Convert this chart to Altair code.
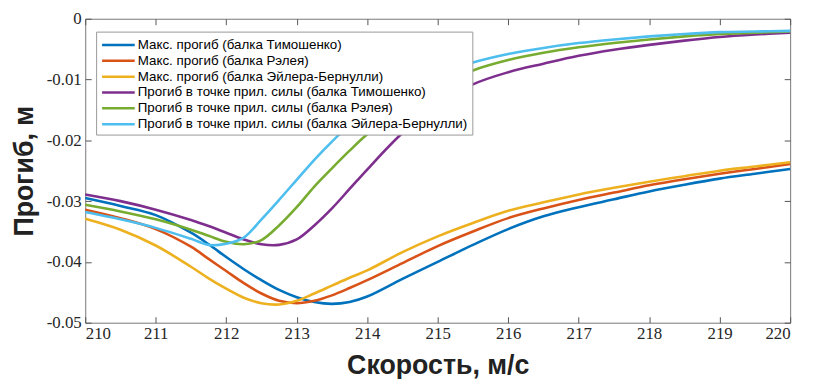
import altair as alt
import pandas as pd

speed = [210, 210.5, 211, 211.5, 211.75, 212, 212.25, 212.5, 212.75, 213, 213.25, 213.5,
         213.75, 214, 214.5, 215, 215.5, 216, 216.5, 217, 217.5, 218, 218.5, 219, 219.5, 220]

series_names = [
    "Макс. прогиб (балка Тимошенко)",
    "Макс. прогиб (балка Рэлея)",
    "Макс. прогиб (балка Эйлера-Бернулли)",
    "Прогиб в точке прил. силы (балка Тимошенко)",
    "Прогиб в точке прил. силы (балка Рэлея)",
    "Прогиб в точке прил. силы (балка Эйлера-Бернулли)",
]
colors = ["#0072BD", "#D95319", "#EDB120", "#7E2F8E", "#77AC30", "#4DBEEE"]

max_timoshenko = [-0.0295, -0.0308, -0.0323, -0.0352, -0.0371, -0.0392, -0.0412, -0.0430, -0.0446,
                  -0.0458, -0.0466, -0.0469, -0.0466, -0.0457, -0.0428, -0.0400, -0.0372, -0.0346,
                  -0.0325, -0.0310, -0.0297, -0.0284, -0.0273, -0.0263, -0.0255, -0.0247]
max_rayleigh = [-0.0314, -0.0328, -0.0346, -0.0375, -0.0395, -0.0415, -0.0435, -0.0452, -0.0464,
                -0.0468, -0.0464, -0.0455, -0.0443, -0.0430, -0.0402, -0.0374, -0.0350, -0.0328,
                -0.0312, -0.0298, -0.0286, -0.0274, -0.0264, -0.0255, -0.0247, -0.0239]
max_euler = [-0.0329, -0.0347, -0.0373, -0.0408, -0.0427, -0.0444, -0.0459, -0.0468, -0.0470,
             -0.0464, -0.0452, -0.0439, -0.0426, -0.0414, -0.0384, -0.0358, -0.0336, -0.0316,
             -0.0302, -0.0289, -0.0278, -0.0268, -0.0259, -0.0250, -0.0243, -0.0236]
load_timoshenko = [-0.0289, -0.0300, -0.0314, -0.0331, -0.0341, -0.0352, -0.0363, -0.0371, -0.0372,
                   -0.0363, -0.0340, -0.0312, -0.0280, -0.0248, -0.0188, -0.0142, -0.0108, -0.0088,
                   -0.0074, -0.0061, -0.0051, -0.0043, -0.0036, -0.0030, -0.0026, -0.0023]
load_rayleigh = [-0.0306, -0.0317, -0.0330, -0.0347, -0.0357, -0.0367, -0.0371, -0.0364, -0.0340,
                 -0.0310, -0.0276, -0.0246, -0.0217, -0.0190, -0.0145, -0.0110, -0.0085, -0.0068,
                 -0.0056, -0.0047, -0.0040, -0.0034, -0.0029, -0.0025, -0.0023, -0.0021]
load_euler = [-0.0318, -0.0330, -0.0344, -0.0362, -0.0372, -0.0370, -0.0360, -0.0330, -0.0298,
              -0.0265, -0.0232, -0.0202, -0.0175, -0.0152, -0.0118, -0.0091, -0.0072, -0.0058,
              -0.0048, -0.0040, -0.0034, -0.0029, -0.0025, -0.0022, -0.0021, -0.0020]

x_ticks = [210, 211, 212, 213, 214, 215, 216, 217, 218, 219, 220]
y_ticks = [-0.05, -0.04, -0.03, -0.02, -0.01, 0]

all_series = [max_timoshenko, max_rayleigh, max_euler, load_timoshenko, load_rayleigh, load_euler]
rows = []
for name, vals in zip(series_names, all_series):
    for sx, dy in zip(speed, vals):
        rows.append({"speed": sx, "defl": dy, "series": name})
df = pd.DataFrame(rows)

xscale = alt.Scale(domain=[210, 220], nice=False, zero=False)
yscale = alt.Scale(domain=[-0.05, 0], nice=False, zero=False)

TICK = "#555555"
LABEL_FONT = "Liberation Serif"
TITLE_FONT = "Liberation Sans"

lines = alt.Chart(df).mark_line(strokeWidth=2.6, interpolate="catmull-rom").encode(
    x=alt.X("speed:Q", scale=xscale,
            axis=alt.Axis(title="Скорость, м/с", values=x_ticks, format="d", offset=-6,
                          tickSize=6, tickColor=TICK, domain=False, grid=False, labelPadding=3,
                          labelFont=LABEL_FONT, labelFontSize=17, labelColor="#262626",
                          titleFont=TITLE_FONT, titleFontSize=27, titleFontWeight="bold",
                          titleColor="#222222", titlePadding=11)),
    y=alt.Y("defl:Q", scale=yscale,
            axis=alt.Axis(title="Прогиб, м", values=y_ticks,
                          labelExpr="datum.value == 0 ? '0' : '' + datum.value",
                          offset=-6, tickSize=6, tickColor=TICK, domain=False, grid=False,
                          labelPadding=4, labelFont=LABEL_FONT, labelFontSize=17,
                          labelColor="#262626", titleFont=TITLE_FONT, titleFontSize=27,
                          titleFontWeight="bold", titleColor="#222222", titlePadding=8)),
    color=alt.Color("series:N", sort=series_names,
                    scale=alt.Scale(domain=series_names, range=colors),
                    legend=alt.Legend(orient="none", legendX=11, legendY=13, title=None,
                                      symbolType="M-2,0H2", symbolSize=272,
                                      symbolStrokeWidth=2.5, symbolOffset=9,
                                      labelFont=TITLE_FONT,
                                      labelFontSize=13.5, labelColor="black", labelOffset=10,
                                      strokeColor="#999999", fillColor="white", padding=4,
                                      rowPadding=0, labelLimit=420)),
)

ticks = alt.Chart(df).mark_line(opacity=0).encode(
    x=alt.X("speed:Q", scale=xscale,
            axis=alt.Axis(orient="top", title=None, values=x_ticks, labels=False, offset=-6,
                          tickSize=6, tickColor=TICK, domain=False, grid=False)),
    y=alt.Y("defl:Q", scale=yscale,
            axis=alt.Axis(orient="right", title=None, values=y_ticks, labels=False, offset=-6,
                          tickSize=6, tickColor=TICK, domain=False, grid=False)),
)

chart = alt.layer(lines, ticks).resolve_axis(x="independent", y="independent").properties(
    width=712, height=307, autosize="none",
    padding={"left": 78, "top": 9, "right": 16, "bottom": 55},
).configure_view(stroke="#777777", strokeWidth=1)

chart.save("out.html", embed_options={"renderer": "svg", "actions": False})
